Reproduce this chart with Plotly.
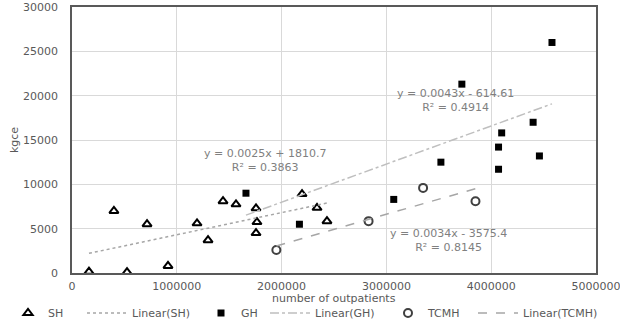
import plotly.graph_objects as go

# ---- data ----
sh_x = [162000, 400000, 716000, 916000, 525000, 1193000, 1298000, 1441000, 1565000,
        1756000, 1765000, 1756000, 2195000, 2338000, 2433000]
sh_y = [150, 7000, 5500, 800, 100, 5600, 3700, 8100, 7750, 7300, 5750, 4500, 8900, 7350, 5850]

gh_x = [1660000, 2170000, 3070000, 3520000, 3720000, 4070000, 4070000, 4100000, 4400000,
        4460000, 4580000]
gh_y = [9000, 5500, 8300, 12500, 21300, 11700, 14200, 15800, 17000, 13200, 26000]

tcmh_x = [1950000, 2830000, 3350000, 3850000]
tcmh_y = [2600, 5850, 9600, 8100]

# trendline coefficients (slope, intercept, R^2) as printed on the chart
sh_fit = [0.0025, 1810.7, 0.3863]
gh_fit = [0.0043, -614.61, 0.4914]
tcmh_fit = [0.0034, -3575.4, 0.8145]

x_ticks = [0, 1000000, 2000000, 3000000, 4000000, 5000000]
y_ticks = [0, 5000, 10000, 15000, 20000, 25000, 30000]

FONT = "DejaVu Sans"
TXT = "#595959"
W, H = 620, 331
ML, MR, MT, MB = 72, 24, 7, 58


def fit_line(xs, fit):
    x0, x1 = min(xs), max(xs)
    return [x0, x1], [fit[0] * x0 + fit[1], fit[0] * x1 + fit[1]]


def eq_text(fit):
    sign = "+" if fit[1] >= 0 else "-"
    return f"y = {fit[0]}x {sign} {abs(fit[1])}<br>R² = {fit[2]}"


fig = go.Figure()

fig.add_trace(go.Scatter(x=sh_x, y=sh_y, mode="markers", name="SH", legend="legend",
                         showlegend=True,
                         marker=dict(symbol="triangle-up-open", size=8, color="#000000",
                                     line=dict(width=2))))
lx, ly = fit_line(sh_x, sh_fit)
fig.add_trace(go.Scatter(x=lx, y=ly, mode="lines", name="Linear(SH)", legend="legend2",
                         showlegend=True,
                         line=dict(color="#a6a6a6", width=1.5, dash="dot")))

fig.add_trace(go.Scatter(x=gh_x, y=gh_y, mode="markers", name="GH", legend="legend3",
                         showlegend=True,
                         marker=dict(symbol="square", size=7, color="#000000")))
lx, ly = fit_line(gh_x, gh_fit)
fig.add_trace(go.Scatter(x=lx, y=ly, mode="lines", name="Linear(GH)", legend="legend4",
                         showlegend=True,
                         line=dict(color="#bfbfbf", width=1.5, dash="dashdot")))

fig.add_trace(go.Scatter(x=tcmh_x, y=tcmh_y, mode="markers", name="TCMH", legend="legend5",
                         showlegend=True,
                         marker=dict(symbol="circle-open", size=8, color="#404040",
                                     line=dict(width=2))))
lx, ly = fit_line(tcmh_x, tcmh_fit)
fig.add_trace(go.Scatter(x=lx, y=ly, mode="lines", name="Linear(TCMH)", legend="legend6",
                         showlegend=True,
                         line=dict(color="#a6a6a6", width=1.5, dash="dash")))

ann_style = dict(showarrow=False, font=dict(family=FONT, size=11, color="#808080"),
                 xref="x", yref="y", align="center")
fig.add_annotation(x=1840000, y=12740, text=eq_text(sh_fit), **ann_style)
fig.add_annotation(x=3660000, y=19500, text=eq_text(gh_fit), **ann_style)
fig.add_annotation(x=3590000, y=3720, text=eq_text(tcmh_fit), **ann_style)

# x-axis title placed as text below the tick labels (paper coords relative to plot area)
plot_h = H - MT - MB
fig.add_annotation(x=0.5, y=-(298 - (H - MB)) / plot_h, xref="paper", yref="paper",
                   text="number of outpatients", showarrow=False,
                   xanchor="center", yanchor="middle",
                   font=dict(family=FONT, size=11, color=TXT))


def leg(px, iw):
    return dict(xref="container", yref="container", x=px / W, y=1 - 313 / H,
                xanchor="left", yanchor="middle", orientation="h", itemwidth=iw,
                bgcolor="rgba(0,0,0,0)", font=dict(family=FONT, size=11, color=TXT))


fig.update_layout(
    width=W, height=H,
    margin=dict(l=ML, r=MR, t=MT, b=MB, autoexpand=False),
    paper_bgcolor="white", plot_bgcolor="white",
    showlegend=True,
    font=dict(family=FONT, size=11, color=TXT),
    legend=leg(8, 30), legend2=leg(82, 40), legend3=leg(201, 30),
    legend4=leg(265, 40), legend5=leg(388, 30), legend6=leg(473, 40),
    xaxis=dict(range=[0, 5000000], tickvals=x_ticks, tickformat="d",
               ticklabeloverflow="allow",
               showgrid=True, gridcolor="#d9d9d9", gridwidth=1, zeroline=False,
               showline=True, mirror=True, linecolor="#595959", linewidth=1.5,
               ticks="", ticklabelstandoff=2,
               tickfont=dict(family=FONT, size=11, color=TXT)),
    yaxis=dict(range=[0, 30000], tickvals=y_ticks, tickformat="d",
               ticklabeloverflow="allow",
               showgrid=True, gridcolor="#d9d9d9", gridwidth=1, zeroline=False,
               showline=True, mirror=True, linecolor="#595959", linewidth=1.5,
               ticks="", ticklabelstandoff=10,
               tickfont=dict(family=FONT, size=11, color=TXT),
               title=dict(text="kgce", standoff=2,
                          font=dict(family=FONT, size=11, color=TXT))),
)

fig.write_html("out.html")
